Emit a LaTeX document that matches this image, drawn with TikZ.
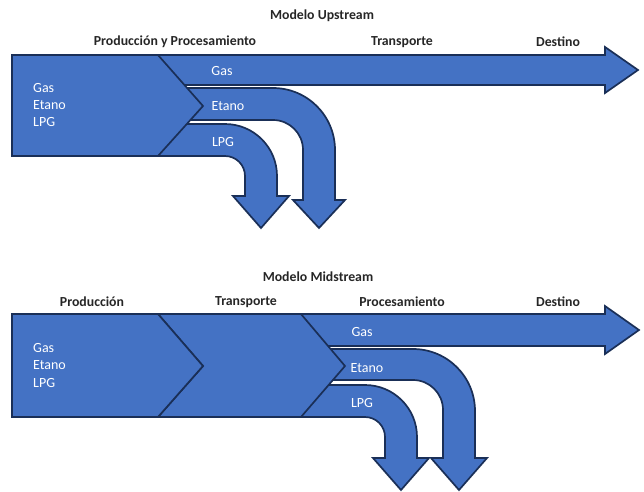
\documentclass[tikz,border=0pt]{standalone}
\usepackage{fontspec}
\setmainfont{Carlito}
\definecolor{fillblue}{HTML}{4472C4}
\definecolor{navy}{HTML}{1A2F57}
\tikzset{
  shapeblue/.style={fill=fillblue, draw=navy, line width=1.7pt, line join=miter},
  hdr/.style={font=\bfseries\fontsize{13.8}{15}\selectfont, text=black!85, inner sep=0pt},
  wlab/.style={font=\fontsize{14}{15}\selectfont, text=white, inner sep=0pt},
  wlabl/.style={wlab, anchor=west}
}
\begin{document}
\begin{tikzpicture}[x=1pt,y=-1pt]
\useasboundingbox (0,0) rectangle (644,491);
% ---------------- Upper: Modelo Upstream ----------------
\node[hdr] (t1) at (322,16) {Modelo Upstream};
\node[hdr] (h1a) at (175,42) {Producción y  Procesamiento};
\node[hdr] (h1b) at (402,42) {Transporte};
\node[hdr] (h1c) at (558,42) {Destino};
% Gas arrow
\draw[shapeblue] (150,55) -- (605,55) -- (605,47) -- (638,70) -- (605,93) -- (605,85) -- (150,85) -- cycle;
% Etano arrow
\draw[shapeblue] (150,88) -- (273,88) arc[start angle=-90, end angle=0, radius=62] -- (335,200) -- (345,200) -- (319,228) -- (293,200) -- (303,200) -- (303,150) arc[start angle=0, end angle=-90, radius=30] -- (150,120) -- cycle;
% LPG arrow
\draw[shapeblue] (150,124) -- (225,124) arc[start angle=-90, end angle=0, radius=52] -- (277,196) -- (289,196) -- (261,228) -- (233,196) -- (245,196) -- (245,176) arc[start angle=0, end angle=-90, radius=20] -- (150,156) -- cycle;
% production/processing block
\draw[shapeblue] (12,55) -- (158,55) -- (203,106) -- (158,156) -- (12,156) -- cycle;
\node[wlabl] (u1) at (33,88) {Gas};
\node[wlabl] (u2) at (33,105) {Etano};
\node[wlabl] (u3) at (33,122) {LPG};
\node[wlab] (ug) at (222,71) {Gas};
\node[wlab] (ue) at (228,106) {Etano};
\node[wlab] (ul) at (223,142) {LPG};
% ---------------- Lower: Modelo Midstream ----------------
\node[hdr] (t2) at (318,277) {Modelo Midstream};
\node[hdr] (h2a) at (92,302) {Producción};
\node[hdr] (h2b) at (246,302) {Transporte};
\node[hdr] (h2c) at (402,302) {Procesamiento};
\node[hdr] (h2d) at (558,302) {Destino};
% Gas arrow
\draw[shapeblue] (290,314) -- (605,314) -- (605,306) -- (639,330) -- (605,354) -- (605,346) -- (290,346) -- cycle;
% Etano arrow
\draw[shapeblue] (290,349) -- (413,349) arc[start angle=-90, end angle=0, radius=62] -- (475,458) -- (487,458) -- (459,490) -- (431,458) -- (443,458) -- (443,410) arc[start angle=0, end angle=-90, radius=30] -- (290,380) -- cycle;
% LPG arrow
\draw[shapeblue] (290,385) -- (365,385) arc[start angle=-90, end angle=0, radius=52] -- (417,458) -- (429,458) -- (401,490) -- (373,458) -- (385,458) -- (385,437) arc[start angle=0, end angle=-90, radius=20] -- (290,417) -- cycle;
% transport chevron
\draw[shapeblue] (158,314) -- (301,314) -- (345,366) -- (301,417) -- (158,417) -- (203,366) -- cycle;
% production block
\draw[shapeblue] (12,314) -- (158,314) -- (203,366) -- (158,417) -- (12,417) -- cycle;
\node[wlabl] (m1) at (33,348) {Gas};
\node[wlabl] (m2) at (33,365) {Etano};
\node[wlabl] (m3) at (33,383) {LPG};
\node[wlab] (mg) at (362,332) {Gas};
\node[wlab] (me) at (367,368) {Etano};
\node[wlab] (ml) at (362,403) {LPG};
\end{tikzpicture}
\end{document}
